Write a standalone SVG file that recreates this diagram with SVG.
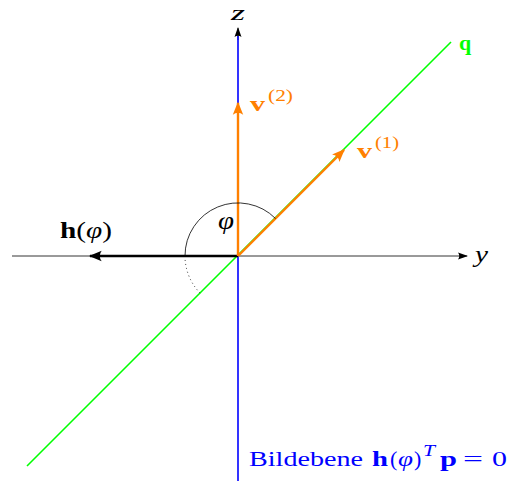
<svg xmlns="http://www.w3.org/2000/svg" width="509" height="481" viewBox="0 0 509 481">
<style>
text{font-family:"Liberation Serif","DejaVu Serif",serif;font-size:22px}
.it{font-style:italic}
.b{font-weight:bold}
.sup{font-size:16px}
.or{fill:#ff8000}
.bl{fill:#0000ff}
</style>
<defs>
<marker id="ab" viewBox="0 0 10 10" refX="9" refY="5" markerWidth="10" markerHeight="10" markerUnits="userSpaceOnUse" orient="auto">
<path d="M0,1.5 L10,5 L0,8.5 Q2.5,5 0,1.5 Z" fill="#000"/>
</marker>
<marker id="ao" viewBox="0 0 10 10" refX="9" refY="5" markerWidth="13" markerHeight="13" markerUnits="userSpaceOnUse" orient="auto">
<path d="M0,1 L10,5 L0,9 Q3,5 0,1 Z" fill="#ff8000"/>
</marker>
<marker id="ah" viewBox="0 0 10 10" refX="9" refY="5" markerWidth="13" markerHeight="13" markerUnits="userSpaceOnUse" orient="auto">
<path d="M0,1 L10,5 L0,9 Q3,5 0,1 Z" fill="#000"/>
</marker>
</defs>
<g id="connectors">
<line id="y-axis" x1="12" y1="256" x2="467" y2="256" stroke="#000" stroke-width="0.8" marker-end="url(#ab)"/>
<line id="z-axis-arrow" x1="238" y1="40" x2="238" y2="28" stroke="#000" stroke-width="0.8" marker-end="url(#ab)"/>
<line id="z-axis" x1="238" y1="481" x2="238" y2="36" stroke="#0000ff" stroke-width="1.6"/>
<line id="q-line" x1="27" y1="466" x2="451" y2="42" stroke="#00ff00" stroke-width="1.6"/>
<line id="h" x1="238" y1="256" x2="90" y2="256" stroke="#000" stroke-width="2.4" marker-end="url(#ah)"/>
<line id="v2" x1="238" y1="256" x2="238" y2="103" stroke="#ff8000" stroke-width="2.4" marker-end="url(#ao)"/>
<line id="v1" x1="238" y1="256" x2="344" y2="150" stroke="#ff8000" stroke-width="2.4" marker-end="url(#ao)"/>
<path id="arc" d="M275.5,218.5 A53,53 0 0 0 185,256" fill="none" stroke="#000" stroke-width="0.8"/>
<path id="arc-dotted" d="M185,256 A53,53 0 0 0 200.5,293.5" fill="none" stroke="#000" stroke-width="0.8" stroke-dasharray="1,3"/>
</g>
<g id="labels">
<text x="231" y="20" class="it" textLength="14" lengthAdjust="spacingAndGlyphs">z</text>
<text x="475" y="262" class="it" style="font-size:24px" textLength="13" lengthAdjust="spacingAndGlyphs">y</text>
<text x="459" y="50" class="b" style="fill:#00ff00">q</text>
<text x="218" y="229" class="it" style="font-size:26px" textLength="16" lengthAdjust="spacingAndGlyphs">φ</text>
<text x="60" y="238" style="font-size:24px" textLength="52" lengthAdjust="spacingAndGlyphs"><tspan class="b">h</tspan><tspan>(</tspan><tspan class="it">φ</tspan><tspan>)</tspan></text>
<text x="250" y="111" class="or b" textLength="15" lengthAdjust="spacingAndGlyphs">v</text>
<text x="268" y="101" class="or sup" textLength="25" lengthAdjust="spacingAndGlyphs">(2)</text>
<text x="357" y="158" class="or b" textLength="15" lengthAdjust="spacingAndGlyphs">v</text>
<text x="375" y="148" class="or sup" textLength="24" lengthAdjust="spacingAndGlyphs">(1)</text>
<g id="bottom-label" class="bl">
<text x="249" y="466" class="bl" textLength="114" lengthAdjust="spacingAndGlyphs">Bildebene</text>
<text x="372" y="466" class="bl b" textLength="16" lengthAdjust="spacingAndGlyphs">h</text>
<text x="390" y="466" class="bl">(</text>
<text x="398" y="466" class="bl it" textLength="15" lengthAdjust="spacingAndGlyphs">φ</text>
<text x="414" y="466" class="bl">)</text>
<text x="423" y="456" class="bl it sup" textLength="12" lengthAdjust="spacingAndGlyphs">T</text>
<text x="440" y="466" class="bl b" textLength="17" lengthAdjust="spacingAndGlyphs">p</text>
<text x="463" y="466" class="bl" textLength="20" lengthAdjust="spacingAndGlyphs">=</text>
<text x="492" y="466" class="bl" textLength="15" lengthAdjust="spacingAndGlyphs">0</text>
</g>
</g>
</svg>
